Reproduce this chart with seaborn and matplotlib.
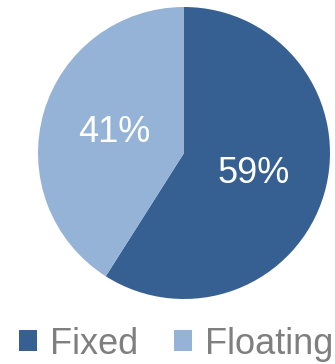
import matplotlib
matplotlib.use("Agg")
import matplotlib.pyplot as plt
import seaborn as sns

sns.set_theme(style="white")
plt.rcParams["font.family"] = ["Liberation Sans", "DejaVu Sans"]

labels = ["Fixed", "Floating"]
shares = [59, 41]
colors = ["#376092", "#95B3D7"]

W, H = 335, 364
fig = plt.figure(figsize=(W / 100, H / 100), dpi=100)
ax = fig.add_axes([38 / W, (H - 299) / H, 292 / W, 292 / H])

wedges, _, autotexts = ax.pie(
    shares, colors=colors, startangle=90, counterclock=False,
    autopct=lambda p: f"{p:.0f}%", pctdistance=0.5, radius=1,
    wedgeprops=dict(linewidth=0),
    textprops=dict(color="white", fontsize=26),
)
ax.set_xlim(-1, 1)
ax.set_ylim(-1, 1)
ax.set_aspect("equal")
ax.axis("off")

fig.legend(wedges, labels, loc="center", ncol=2,
           bbox_to_anchor=(176 / W, 1 - 344 / H), frameon=False,
           fontsize=26, labelcolor="#7F7F7F",
           handlelength=0.5, handleheight=0.5,
           handletextpad=0.35, columnspacing=1.0)

fig.savefig("out.png", dpi=100)
